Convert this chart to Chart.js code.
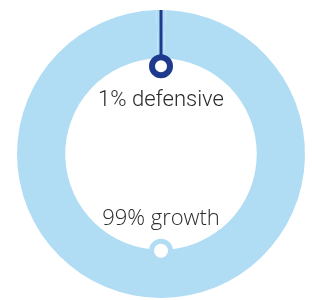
<!DOCTYPE html>
<html>
<head>
<meta charset="utf-8">
<script src="https://cdn.jsdelivr.net/npm/chart.js@4.4.1/dist/chart.umd.min.js"></script>
<style>
  html, body { margin: 0; padding: 0; background: #fff; }
  #wrap { width: 312px; height: 300px; }
</style>
</head>
<body>
<div id="wrap"><canvas id="mixChart" width="312" height="300"></canvas></div>
<script>
const labels = ['defensive', 'growth'];
const shares = [1, 99];
const ringColors = ['#b1ddf4', '#b1ddf4'];
const markerColors = ['#1e3a8c', '#b1ddf4'];

// markers + labels sitting on the inner edge of the ring
const markerPlugin = {
    id: 'markers',
    afterDatasetsDraw(chart) {
        const ctx = chart.ctx;
        const arcs = chart.getDatasetMeta(0).data;
        arcs.forEach((arc, i) => {
            const p = arc.getProps(['x', 'y', 'startAngle', 'endAngle', 'innerRadius', 'outerRadius'], true);
            const mid = (p.startAngle + p.endAngle) / 2;
            const cos = Math.cos(mid), sin = Math.sin(mid);
            const text = shares[i] + '% ' + labels[i];
            ctx.save();
            if (i === 0) {
                const r = p.innerRadius - 8;
                const mx = p.x + cos * r, my = p.y + sin * r;
                // line from the outer edge down to the marker
                ctx.strokeStyle = markerColors[i];
                ctx.lineWidth = 3;
                ctx.beginPath();
                ctx.moveTo(p.x + cos * p.outerRadius, p.y + sin * p.outerRadius);
                ctx.lineTo(p.x + cos * (r + 9), p.y + sin * (r + 9));
                ctx.stroke();
                ctx.beginPath();
                ctx.arc(mx, my, 9, 0, Math.PI * 2);
                ctx.fillStyle = '#fff';
                ctx.fill();
                ctx.lineWidth = 6;
                ctx.stroke();
                ctx.fillStyle = '#2b2b2b';
                ctx.font = '300 22px Roboto';
                ctx.textAlign = 'center';
                ctx.textBaseline = 'middle';
                ctx.fillText(text, mx, my + 34);
            } else {
                const r = p.innerRadius + 1;
                const mx = p.x + cos * r, my = p.y + sin * r;
                ctx.beginPath();
                ctx.arc(mx, my, 12, 0, Math.PI * 2);
                ctx.fillStyle = markerColors[i];
                ctx.fill();
                ctx.beginPath();
                ctx.arc(mx, my, 7, 0, Math.PI * 2);
                ctx.fillStyle = '#fff';
                ctx.fill();
                ctx.fillStyle = '#2b2b2b';
                ctx.font = '300 22px "Open Sans"';
                ctx.textAlign = 'center';
                ctx.textBaseline = 'middle';
                ctx.fillText(text, mx, my - 32);
            }
            ctx.restore();
        });
    }
};

new Chart(document.getElementById('mixChart'), {
    type: 'doughnut',
    data: {
        labels: labels,
        datasets: [{
            data: shares,
            backgroundColor: ringColors,
            borderWidth: 0
        }]
    },
    options: {
        responsive: false,
        animation: false,
        cutout: '66.5%',
        rotation: -1.8,
        layout: { padding: { left: 17, right: 7, top: 10, bottom: 2 } },
        plugins: {
            legend: { display: false },
            tooltip: { enabled: false }
        }
    },
    plugins: [markerPlugin]
});
</script>
</body>
</html>
